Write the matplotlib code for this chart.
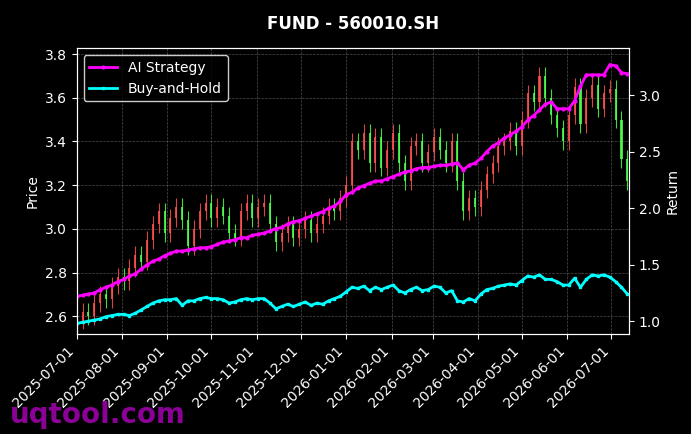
import numpy as np
import pandas as pd
import matplotlib
matplotlib.use("Agg")
import matplotlib.pyplot as plt
import matplotlib.dates as mdates

dates = pd.date_range("2025-07-01", periods=95, freq="4D")

close = [2.58, 2.62, 2.60, 2.66, 2.70, 2.68, 2.74, 2.78,
         2.76, 2.82, 2.88, 2.85, 2.95, 3.02, 3.08, 2.98,
         3.05, 3.10, 3.04, 2.92, 3.00, 3.08, 3.12, 3.05,
         3.10, 3.06, 2.98, 2.96, 3.08, 3.12, 3.05,
         3.10, 3.12, 3.02, 2.94, 2.98, 3.02, 2.96,
         3.00, 3.04, 2.98, 3.02, 3.06, 3.10, 3.08, 3.14,
         3.20, 3.40, 3.36, 3.44, 3.30, 3.42, 3.28, 3.36,
         3.44, 3.30, 3.22, 3.38, 3.40, 3.30, 3.35,
         3.42, 3.36, 3.30, 3.40, 3.22, 3.08, 3.14, 3.10,
         3.18, 3.25, 3.30, 3.38, 3.40, 3.45, 3.38,
         3.50, 3.62, 3.58, 3.70, 3.60, 3.52, 3.46, 3.40,
         3.52, 3.65, 3.48, 3.60, 3.66, 3.55, 3.62,
         3.64, 3.50, 3.32, 3.22]

strategy = [1.22, 1.23, 1.24, 1.25, 1.28, 1.30, 1.32, 1.35,
            1.37, 1.40, 1.42, 1.46, 1.50, 1.53, 1.55, 1.58,
            1.60, 1.62, 1.62, 1.63, 1.64, 1.65, 1.65, 1.66,
            1.68, 1.70, 1.71, 1.72, 1.74, 1.74, 1.76,
            1.77, 1.78, 1.80, 1.82, 1.83, 1.86, 1.88,
            1.89, 1.91, 1.93, 1.95, 1.97, 2.00, 2.02, 2.06,
            2.12, 2.14, 2.18, 2.20, 2.22, 2.24, 2.24, 2.26,
            2.28, 2.30, 2.32, 2.33, 2.35, 2.36, 2.36,
            2.37, 2.38, 2.38, 2.39, 2.40, 2.34, 2.38, 2.40,
            2.44, 2.50, 2.55, 2.58, 2.62, 2.65, 2.68,
            2.72, 2.78, 2.82, 2.87, 2.92, 2.94, 2.88, 2.88,
            2.88, 2.95, 3.08, 3.18, 3.18, 3.18, 3.18,
            3.27, 3.26, 3.20, 3.19]

buy_hold = [0.98, 0.99, 1.00, 1.01, 1.02, 1.04, 1.05, 1.06,
            1.06, 1.05, 1.07, 1.10, 1.13, 1.16, 1.18, 1.19,
            1.19, 1.20, 1.14, 1.18, 1.18, 1.20, 1.21, 1.20,
            1.20, 1.19, 1.16, 1.17, 1.19, 1.20, 1.19,
            1.20, 1.20, 1.16, 1.11, 1.13, 1.15, 1.13,
            1.15, 1.17, 1.14, 1.16, 1.15, 1.18, 1.20, 1.22,
            1.26, 1.30, 1.29, 1.31, 1.27, 1.30, 1.28, 1.30,
            1.32, 1.27, 1.25, 1.28, 1.30, 1.27, 1.28,
            1.31, 1.30, 1.25, 1.27, 1.18, 1.17, 1.20, 1.18,
            1.24, 1.28, 1.29, 1.31, 1.32, 1.33, 1.32,
            1.36, 1.40, 1.39, 1.41, 1.37, 1.37, 1.35, 1.32,
            1.32, 1.38, 1.30, 1.37, 1.41, 1.40, 1.41,
            1.39, 1.35, 1.30, 1.24]

close = np.array(close)
opn = np.r_[close[0] - 0.02, close[:-1]]

fig = plt.figure(figsize=(6.91, 4.34), dpi=100, facecolor="black")
ax = fig.add_axes([0.111, 0.230, 0.799, 0.659], facecolor="black")
ax2 = ax.twinx()

x = mdates.date2num(dates)
up = close >= opn
cols = np.where(up, "#ff5050", "#50ff50")
ax.bar(x, np.abs(close - opn), bottom=np.minimum(close, opn), width=1.4,
       color=cols, linewidth=0, alpha=0.85, zorder=2)
ax.vlines(x, np.minimum(close, opn) - 0.04, np.maximum(close, opn) + 0.04,
          colors=cols, linewidth=0.8, alpha=0.85, zorder=2)

ax2.plot(dates, strategy, color="#ff00ff", lw=2, marker="o", ms=2, label="AI Strategy")
ax2.plot(dates, buy_hold, color="#00ffff", lw=2, marker="s", ms=2, label="Buy-and-Hold")

ax.set_ylim(2.518, 3.827)
ax2.set_ylim(0.885, 3.416)
ax.set_xlim(mdates.date2num(pd.Timestamp("2025-07-01")), mdates.date2num(pd.Timestamp("2026-07-13")))
ax.xaxis.set_major_locator(mdates.MonthLocator())
ax.xaxis.set_major_formatter(mdates.DateFormatter("%Y-%m-%d"))
plt.setp(ax.get_xticklabels(), rotation=45, ha="right")

for a in (ax, ax2):
    a.tick_params(colors="white", labelsize=10)
    for s in a.spines.values():
        s.set_color("white")
ax.grid(True, color="gray", ls="--", lw=0.5, alpha=0.6)
ax.set_ylabel("Price", color="white")
ax2.set_ylabel("Return", color="white")
ax.set_title("FUND - 560010.SH", color="white", fontweight="bold", pad=14)

leg = ax2.legend(loc="upper left", facecolor="black", edgecolor="white", fontsize=10)
for t in leg.get_texts():
    t.set_color("white")

fig.text(0.015, 0.025, "uqtool.com", color="#9b00a8", fontsize=20, fontweight="bold", alpha=0.9)
fig.savefig("out.png", dpi=100, facecolor="black")
